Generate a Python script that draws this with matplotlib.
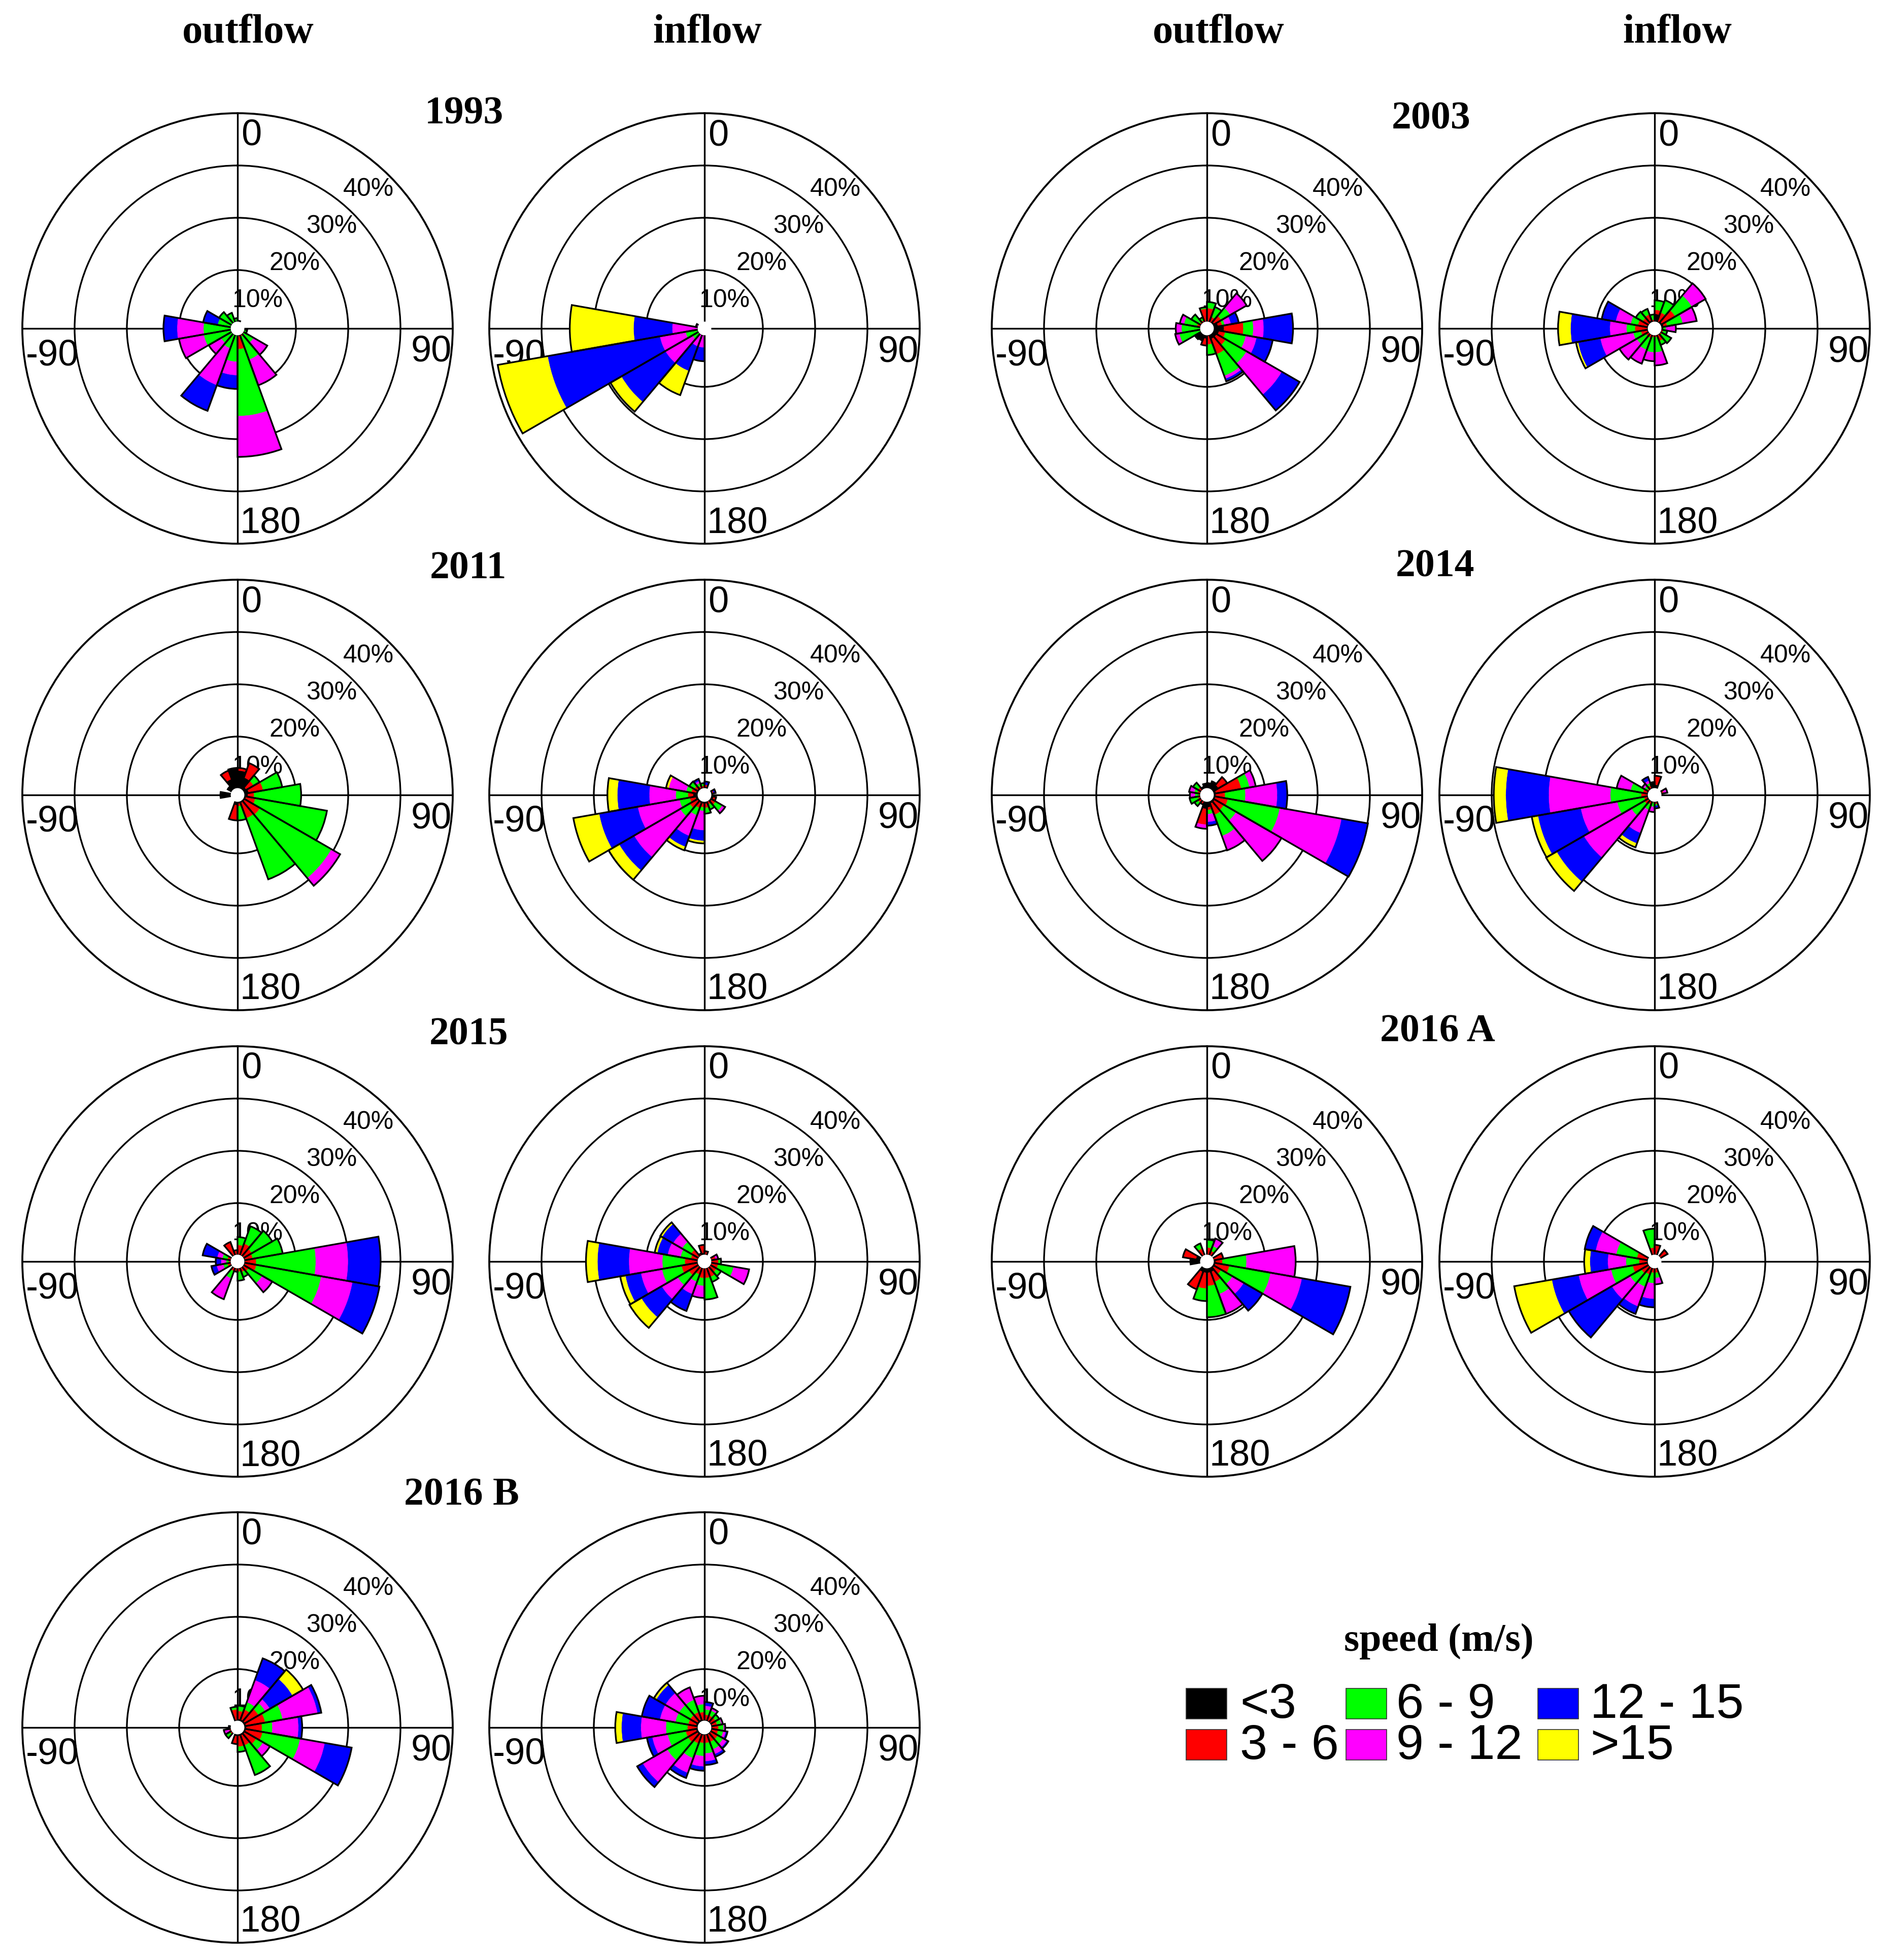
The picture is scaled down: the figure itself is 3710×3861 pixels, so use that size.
import numpy as np
import matplotlib
matplotlib.use("Agg")
import matplotlib.pyplot as plt
from matplotlib.patches import Rectangle

# ---------------- data ----------------
directions = [10, 30, 50, 70, 90, 110, 130, 150, 170, 190, 210, 230, 250, 270, 290, 310, 330, 350]
speed_labels = ["<3", "3 - 6", "6 - 9", "9 - 12", "12 - 15", ">15"]
speed_colors = ["#000000", "#ff0000", "#00ff00", "#ff00ff", "#0000ff", "#ffff00"]
ring_values = [10, 20, 30, 40]
ring_labels = ["10%", "20%", "30%", "40%"]
dir_labels = ["0", "90", "180", "-90"]
column_titles = ["outflow", "inflow", "outflow", "inflow"]

# each row: one direction bin (20 deg wide), percent per speed class
out_1993 = [[0, 0, 0.3, 0, 0, 0], [0, 0, 0, 0, 0, 0], [0, 0, 0, 0, 0, 0], [0, 0, 0, 0, 0, 0],
            [0, 0, 0, 0, 0, 0], [0, 0, 0.7, 0, 0, 0], [0, 0.3, 2.1, 3.0, 0, 0], [0, 0.5, 4.7, 5.2, 0, 0],
            [0.3, 2.5, 12.8, 7.8, 0, 0], [0, 0, 5.2, 2.6, 2.6, 0], [0, 0, 2.9, 7.5, 5.2, 0],
            [0, 0, 2.5, 2.7, 0, 0], [0, 0, 5.4, 4.8, 0, 0], [0, 0, 5.35, 5.05, 2.6, 0],
            [0, 0, 2.7, 0, 2.8, 0], [0, 0, 2.9, 0, 0, 0], [0, 0, 2.0, 0, 0, 0], [0, 0, 0.8, 0, 0, 0]]
in_1993 = [[0, 0, 0, 0, 0, 0], [0, 0, 0, 0, 0, 0], [0, 0, 0, 0, 0, 0], [0, 0, 0, 0, 0, 0],
           [0, 0, 0, 0, 0, 0], [0, 0, 0, 0, 0, 0], [0, 0, 0, 0, 0, 0], [0, 0, 0, 0, 0, 0],
           [0, 0, 0, 0, 0, 0], [0, 0, 0, 2.5, 2.6, 0], [0, 0, 0, 2.5, 5.0, 4.9],
           [0, 0, 1.5, 6.0, 9.7, 2.4], [0, 0, 2.5, 5.0, 21.8, 9.7], [0, 0, 0, 5.0, 7.4, 12.2],
           [0, 0, 0, 0.5, 0, 0], [0, 0, 0, 0, 0, 0], [0, 0, 0, 0, 0, 0], [0, 0, 0, 0, 0, 0]]
out_2003 = [[0, 2.7, 1.2, 0, 0, 0], [0, 1.2, 2.0, 0, 0, 0], [0.5, 1.5, 2.0, 3.6, 0, 0],
            [1.0, 0.8, 0.5, 1.2, 1.5, 0], [2.1, 3.7, 1.9, 2.0, 5.6, 0], [1.2, 1.2, 4.0, 2.1, 3.1, 0],
            [1.0, 2.0, 4.6, 7.8, 3.9, 0], [1.0, 3.1, 4.4, 0.6, 0.5, 0], [0.3, 1.6, 2.0, 0, 0, 0],
            [0.8, 1.3, 0, 0, 0, 0], [1.3, 0, 0, 0, 0, 0], [1.5, 0, 0, 0, 0, 0], [0, 0, 4.2, 0.8, 0, 0],
            [0, 0, 3.7, 1.1, 0, 0], [0, 0.8, 2.5, 0.8, 0, 0], [0, 0.5, 1.8, 0, 0, 0],
            [0, 0.5, 0.6, 0, 0, 0], [0, 2.6, 0.3, 0, 0, 0]]
in_2003 = [[1.6, 0.8, 1.8, 0, 0, 0], [0.3, 1.8, 2.5, 0, 0, 0], [0.5, 2.9, 3.7, 3.0, 0, 0],
           [0.6, 0.7, 3.0, 2.7, 0, 0], [0.5, 0, 0.5, 1.9, 0, 0], [0, 0.5, 0.8, 0, 0, 0],
           [0, 0.5, 2.0, 0, 0, 0], [0, 1.4, 0.8, 0, 0, 0], [0, 0.5, 2.9, 2.5, 0, 0],
           [0, 0.5, 2.9, 1.7, 0, 0], [0, 0.8, 2.4, 2.8, 0, 0], [0, 0.8, 2.0, 3.8, 0, 0],
           [0.3, 1.2, 1.5, 6.4, 4.3, 0.4], [0.3, 2.3, 1.6, 3.2, 7.5, 2.4], [0.3, 1.8, 1.4, 2.9, 2.7, 0],
           [0, 1.5, 1.5, 0, 0, 0], [0.5, 1.2, 1.1, 0, 0, 0], [0, 0.5, 1.0, 0, 0, 0]]
out_2011 = [[3.5, 0.5, 0, 0, 0, 0], [2.4, 2.9, 0, 0, 0, 0], [0.8, 1.6, 1.3, 0, 0, 0],
            [1.0, 2.8, 3.7, 0, 0, 0], [0.8, 1.2, 9.0, 0, 0, 0], [0.5, 1.8, 13.9, 0, 0, 0],
            [0.5, 3.3, 15.8, 1.9, 0, 0], [0.5, 3.1, 12.4, 0, 0, 0], [0.5, 0.5, 2.7, 0, 0, 0],
            [0.8, 2.9, 0, 0, 0, 0], [0, 0, 0, 0, 0, 0], [0, 0, 0, 0, 0, 0], [0, 0, 0, 0, 0, 0],
            [2.1, 0, 0, 0, 0, 0], [0, 0, 0, 0, 0, 0], [1.0, 0, 0, 0, 0, 0], [2.1, 1.7, 0, 0, 0, 0],
            [4.0, 0, 0, 0, 0, 0]]
in_2011 = [[0.4, 0.4, 0, 0, 0.6, 0], [0, 0, 0, 0, 0, 0], [0, 0, 0, 0, 0, 0], [0.4, 0.2, 0, 0, 0.4, 0],
           [0, 0, 0, 0, 0, 0], [0.6, 0.5, 0, 0, 0, 0], [0.5, 0.8, 1.5, 0.6, 0, 0], [0, 0.8, 1.0, 0, 0, 0],
           [0.5, 0.8, 1.1, 0, 0, 0], [0.5, 0.7, 0.7, 3.7, 2.0, 0.5], [0.5, 1.0, 1.5, 4.2, 2.2, 0.7],
           [0.5, 1.6, 2.1, 10.2, 3.3, 2.3], [0.6, 1.1, 2.0, 8.1, 7.5, 5.0], [1.0, 1.0, 2.3, 5.1, 6.1, 1.9],
           [0.5, 0.9, 1.0, 3.4, 0, 0.5], [0.5, 0.6, 1.1, 0, 0, 0], [0.3, 0.4, 0.6, 0.4, 0.4, 0],
           [0, 0.6, 0.5, 0, 0, 0]]
out_2014 = [[1.1, 0, 0, 0, 0, 0], [1.6, 0, 0, 0, 0, 0], [1.4, 1.9, 0, 0, 0, 0], [0.6, 4.9, 1.6, 1.2, 0, 0],
            [0.5, 1.8, 3.9, 6.1, 1.9, 0], [0.5, 2.4, 10.1, 12.0, 5.1, 0], [0.6, 2.0, 2.7, 10.0, 0, 0],
            [0.6, 2.3, 4.3, 2.9, 0, 0], [1.2, 0.5, 0.8, 1.5, 0.7, 0], [1.5, 3.0, 0, 0.8, 0, 0],
            [0, 0.8, 0, 0, 0, 0], [0, 0.8, 0.8, 0, 0, 0], [0, 0.6, 1.6, 0, 0, 0], [0, 0.4, 0.7, 1.0, 0, 0],
            [0, 0.7, 0.6, 1.0, 0, 0], [0, 0.8, 1.1, 0, 0, 0], [0.5, 0, 0, 0, 0, 0], [1.0, 0, 0, 0, 0, 0]]
in_2014 = [[0.8, 1.7, 0, 0, 0, 0], [0, 0, 0, 0, 0, 0], [0, 0, 0, 0, 0, 0], [0.3, 0.3, 0, 0.7, 0, 0],
           [0, 0, 0, 0, 0, 0], [0, 0, 0, 0, 0, 0], [0, 0, 0, 0, 0, 0], [0, 0, 0, 0, 0, 0],
           [0.3, 0.3, 0.3, 0, 0.5, 0], [0, 0.3, 0.8, 1.0, 0, 0], [0.3, 0.5, 1.1, 4.7, 2.1, 0.8],
           [0.3, 0.8, 2.9, 10.5, 6.0, 2.3], [0.3, 0.6, 5.2, 7.1, 8.3, 1.2], [0.3, 1.1, 5.9, 11.8, 8.2, 2.3],
           [0.3, 0.8, 2.4, 2.7, 0, 0], [0, 0.5, 0.6, 0.5, 0, 0], [0.3, 0.5, 0.5, 0.5, 0.7, 0],
           [1.3, 0, 0, 0, 0, 0]]
out_2015 = [[0, 2.0, 1.5, 0, 0, 0], [0, 2.5, 3.5, 0, 0, 0], [0, 2.0, 4.5, 0, 0, 0], [0.3, 1.5, 5.8, 0, 0, 0],
            [0.3, 2.1, 11.4, 6.2, 6.2, 0], [0.3, 2.2, 12.6, 6.1, 5.2, 0], [0.3, 1.0, 3.0, 2.2, 0, 0],
            [0, 1.0, 1.0, 0, 0, 0], [0, 0.8, 1.7, 0, 0, 0], [0, 0.8, 0, 0, 0, 0], [0, 0.8, 1.5, 4.2, 0, 0],
            [0, 0, 0, 0, 0, 0], [0, 0.8, 0.8, 1.3, 1.0, 0], [0, 0.5, 0.5, 1.0, 1.0, 0],
            [0, 0.8, 1.0, 1.0, 2.8, 0], [0, 0, 0, 0, 0, 0], [0, 2.8, 0, 0, 0, 0], [0, 1.0, 0, 0, 0, 0]]
in_2015 = [[0, 0.8, 0, 0, 0, 0], [0, 0, 0, 0, 0, 0], [0, 0, 0, 0, 0, 0], [0, 1.0, 0, 0.5, 0, 0],
           [0, 1.5, 0.5, 0, 0, 0], [0, 1.5, 3.0, 3.0, 0, 0], [0, 1.5, 1.0, 0, 0, 0], [0, 2.0, 1.0, 0, 0, 0],
           [0, 2.0, 4.1, 0, 0, 0], [0, 2.0, 1.5, 2.3, 0, 0], [0, 1.5, 1.5, 2.5, 3.4, 0],
           [0.3, 2.0, 2.5, 3.5, 4.5, 2.6], [0.3, 3.0, 3.8, 4.1, 3.0, 1.0], [0.3, 2.3, 4.3, 6.4, 6.0, 2.2],
           [0, 1.5, 2.0, 2.5, 2.0, 0.5], [0.3, 1.5, 2.0, 2.0, 2.4, 0.4], [0, 0.5, 0, 0, 0, 0],
           [0.5, 1.5, 0, 0, 0, 0]]
out_2016A = [[0, 1.5, 1.5, 0, 0, 0], [0, 1.0, 1.0, 1.5, 0, 0], [0, 0, 0, 0, 0, 0], [0, 2.0, 0, 0, 0, 0],
             [0.5, 1.3, 4.6, 9.4, 0, 0], [0.5, 2.7, 8.0, 6.1, 9.4, 0], [0.5, 1.5, 2.5, 2.5, 4.1, 0],
             [1.0, 2.0, 2.5, 4.0, 0, 0], [1.0, 2.5, 6.0, 0, 0, 0], [1.0, 3.0, 2.4, 0, 0, 0],
             [1.0, 3.5, 0, 0, 0, 0], [0, 0, 0, 0, 0, 0], [0, 0, 0, 0, 0, 0], [2.0, 0, 0, 0, 0, 0],
             [1.0, 2.5, 0, 0, 0, 0], [0, 0, 0, 0, 0, 0], [0, 1.5, 1.0, 0, 0, 0], [0, 0, 0, 0, 0, 0]]
in_2016A = [[0, 2.0, 0, 0, 0, 0], [0, 0, 0, 0, 0, 0], [0, 1.7, 0, 0, 0, 0], [0, 0, 0, 0, 0, 0],
            [0, 0, 0, 0, 0, 0], [0, 0, 0, 0, 0, 0], [0, 0, 0, 0, 0, 0], [0, 0, 0, 0, 0, 0],
            [0, 1.0, 1.0, 1.2, 0, 0], [0, 1.0, 2.0, 3.0, 1.6, 0], [0, 1.5, 2.5, 4.0, 1.5, 0],
            [0.3, 1.5, 2.5, 4.0, 9.5, 0], [0.3, 2.8, 4.2, 6.3, 5.2, 7.3], [0.3, 1.5, 2.5, 3.5, 3.4, 1.1],
            [0.3, 2.0, 4.0, 4.0, 2.1, 0], [0, 0, 0, 0, 0, 0], [0, 0, 0, 0, 0, 0], [0, 1.5, 3.6, 0, 0, 0]]
out_2016B = [[0.5, 1.5, 1.0, 0, 0, 0], [0.5, 2.0, 1.5, 4.5, 4.4, 0], [0.5, 3.0, 1.5, 1.0, 5.0, 2.3],
             [0.5, 3.7, 3.4, 6.8, 0.7, 0], [0.5, 3.0, 2.0, 5.0, 0.7, 0], [0.5, 3.2, 7.3, 4.8, 5.2, 0],
             [0.5, 2.5, 1.5, 1.5, 0, 0], [0.5, 2.0, 6.0, 0, 0, 0], [0.5, 2.0, 1.0, 0, 0, 0],
             [0.5, 1.5, 0, 0, 0, 0], [0, 0, 0, 0, 0, 0], [0, 0.5, 1.0, 0, 0, 0], [0, 0.5, 0, 1.0, 0, 0],
             [0.5, 0, 0, 0, 0, 0], [0, 0, 0, 0, 0, 0], [0, 0, 0, 0, 0, 0], [0, 0, 0, 0, 0, 0],
             [0.3, 2.0, 0.5, 0, 0, 0]]
in_2016B = [[0.3, 1.0, 1.0, 0.7, 0.7, 0], [0.3, 1.0, 1.0, 0.5, 0, 0], [0.3, 1.0, 0.8, 0, 0, 0],
            [0.3, 1.0, 0.8, 0.3, 0, 0], [0.3, 1.2, 1.0, 0.3, 0, 0], [0.3, 1.2, 1.0, 0.5, 0.3, 0],
            [0.3, 1.5, 1.2, 0.8, 0.3, 0], [0.3, 1.5, 1.5, 1.0, 0.5, 0], [0.3, 1.5, 2.0, 1.5, 0.7, 0],
            [0.3, 1.5, 2.5, 2.0, 0.8, 0], [0.3, 1.8, 3.0, 3.0, 1.0, 0], [0.5, 2.0, 4.6, 5.4, 1.2, 0],
            [0.5, 2.0, 3.5, 3.0, 1.0, 0], [0.3, 1.8, 4.1, 4.8, 3.7, 1.2], [0.5, 1.5, 2.5, 3.0, 3.5, 0],
            [0.5, 1.5, 2.5, 3.0, 2.0, 0.5], [0.5, 1.5, 2.5, 2.5, 0, 0], [0.3, 1.5, 1.5, 1.6, 0, 0]]

year_titles = ["1993", "2003", "2011", "2014", "2015", "2016 A", "2016 B"]

# ---------------- layout (pixels) ----------------
W, H, DPI = 3710, 3862, 200
R = 424
HOLE = 1.17
col_x = [468, 1388, 2378, 3260]
row_y = [648, 1567, 2486, 3404]

panels = [
    (out_1993, 0, 0), (in_1993, 1, 0), (out_2003, 2, 0), (in_2003, 3, 0),
    (out_2011, 0, 1), (in_2011, 1, 1), (out_2014, 2, 1), (in_2014, 3, 1),
    (out_2015, 0, 2), (in_2015, 1, 2), (out_2016A, 2, 2), (in_2016A, 3, 2),
    (out_2016B, 0, 3), (in_2016B, 1, 3),
]
title_pos = [(914, 244), (2820, 253), (922, 1140), (2828, 1135), (924, 2057), (2832, 2052), (909, 2965)]

SANS = ["Liberation Sans", "DejaVu Sans"]
SERIF = ["Liberation Serif", "DejaVu Serif"]

fig = plt.figure(figsize=(W / DPI, H / DPI), dpi=DPI)
fig.patch.set_facecolor("white")


def fx(x):
    return x / W


def fy(y):
    return 1 - y / H


def draw_rose(data, cx, cy):
    ax = fig.add_axes([(cx - R) / W, 1 - (cy + R) / H, 2 * R / W, 2 * R / H], projection="polar")
    ax.set_theta_zero_location("N")
    ax.set_theta_direction(-1)
    ax.set_ylim(-HOLE, ring_values[-1])
    ax.set_thetagrids([0, 90, 180, 270], labels=[""] * 4)
    ax.set_rgrids(ring_values[:-1], labels=[""] * 3)
    ax.grid(True, color="black", linewidth=1.2, linestyle="-")
    ax.spines["polar"].set_linewidth(1.35)
    ax.spines["polar"].set_color("black")
    ax.tick_params(length=0)
    ax.set_facecolor("white")

    theta = np.deg2rad(directions)
    width = np.deg2rad(20)
    arr = np.array(data, dtype=float)
    bottom = np.zeros(len(directions))
    for k in range(len(speed_labels)):
        h = arr[:, k]
        m = h > 0
        if m.any():
            ax.bar(theta[m], h[m], width=width, bottom=bottom[m], color=speed_colors[k],
                   edgecolor=speed_colors[k], linewidth=0.2, zorder=2)
        bottom += h
    m = bottom > 0
    ax.bar(theta[m], bottom[m], width=width, bottom=0, facecolor="none",
           edgecolor="black", linewidth=1.2, zorder=3)
    # white centre disc
    ax.bar(0, HOLE + 0.14, width=2 * np.pi, bottom=-HOLE, color="white", edgecolor="none", zorder=4)

    # direction labels
    span = 2 * R
    ax.text(0.5 + 7 / span, 0.5 + 414 / span, dir_labels[0], transform=ax.transAxes,
            ha="left", va="top", fontsize=26, family=SANS, zorder=1.8)
    ax.text(0.5 + 422 / span, 0.5 - 12 / span, dir_labels[1], transform=ax.transAxes,
            ha="right", va="top", fontsize=26, family=SANS, zorder=1.8)
    ax.text(0.5 + 5 / span, 0.5 - 416 / span, dir_labels[2], transform=ax.transAxes,
            ha="left", va="bottom", fontsize=26, family=SANS, zorder=1.8)
    ax.text(0.5 - 417 / span, 0.5 - 19 / span, dir_labels[3], transform=ax.transAxes,
            ha="left", va="top", fontsize=26, family=SANS, zorder=1.8)
    # percentage labels
    tot = ring_values[-1] + HOLE
    for k, lab in enumerate(ring_labels):
        lx = -1.0 + 7.05 * k
        ly = 5.4 + 7.1 * k
        ax.text(0.5 + lx / (2 * tot), 0.5 + ly / (2 * tot), lab, transform=ax.transAxes,
                ha="left", va="center", fontsize=18, family=SANS, zorder=1.8)
    return ax


for data, c, r in panels:
    draw_rose(data, col_x[c], row_y[r])

# column headers
header_x = [489, 1394, 2401, 3305]
for x, t in zip(header_x, column_titles):
    fig.text(fx(x), fy(84), t, ha="center", va="baseline", fontsize=29, fontweight="bold", family=SERIF)

for (x, y), t in zip(title_pos, year_titles):
    fig.text(fx(x), fy(y), t, ha="center", va="baseline", fontsize=28, fontweight="bold", family=SERIF)

# legend
fig.text(fx(2835), fy(3233), "speed (m/s)", ha="center", va="center", fontsize=28,
         fontweight="bold", family=SERIF)
leg_sq_x = [2337, 2652, 3030]
leg_txt_x = [2443, 2751, 3133]
leg_row_y = [3357, 3438]
sq_w, sq_h = 80, 60
for i, (lab, col) in enumerate(zip(speed_labels, speed_colors)):
    c = i // 2
    r = i % 2
    x0 = leg_sq_x[c]
    y0 = leg_row_y[r]
    fig.patches.append(Rectangle((fx(x0), fy(y0 + sq_h / 2)), sq_w / W, sq_h / H,
                                 transform=fig.transFigure, facecolor=col, edgecolor="#333333",
                                 linewidth=0.6))
    fig.text(fx(leg_txt_x[c]), fy(y0 + 2), lab, ha="left", va="center", fontsize=35, family=SANS)

fig.savefig("out.png", dpi=DPI, facecolor="white")
